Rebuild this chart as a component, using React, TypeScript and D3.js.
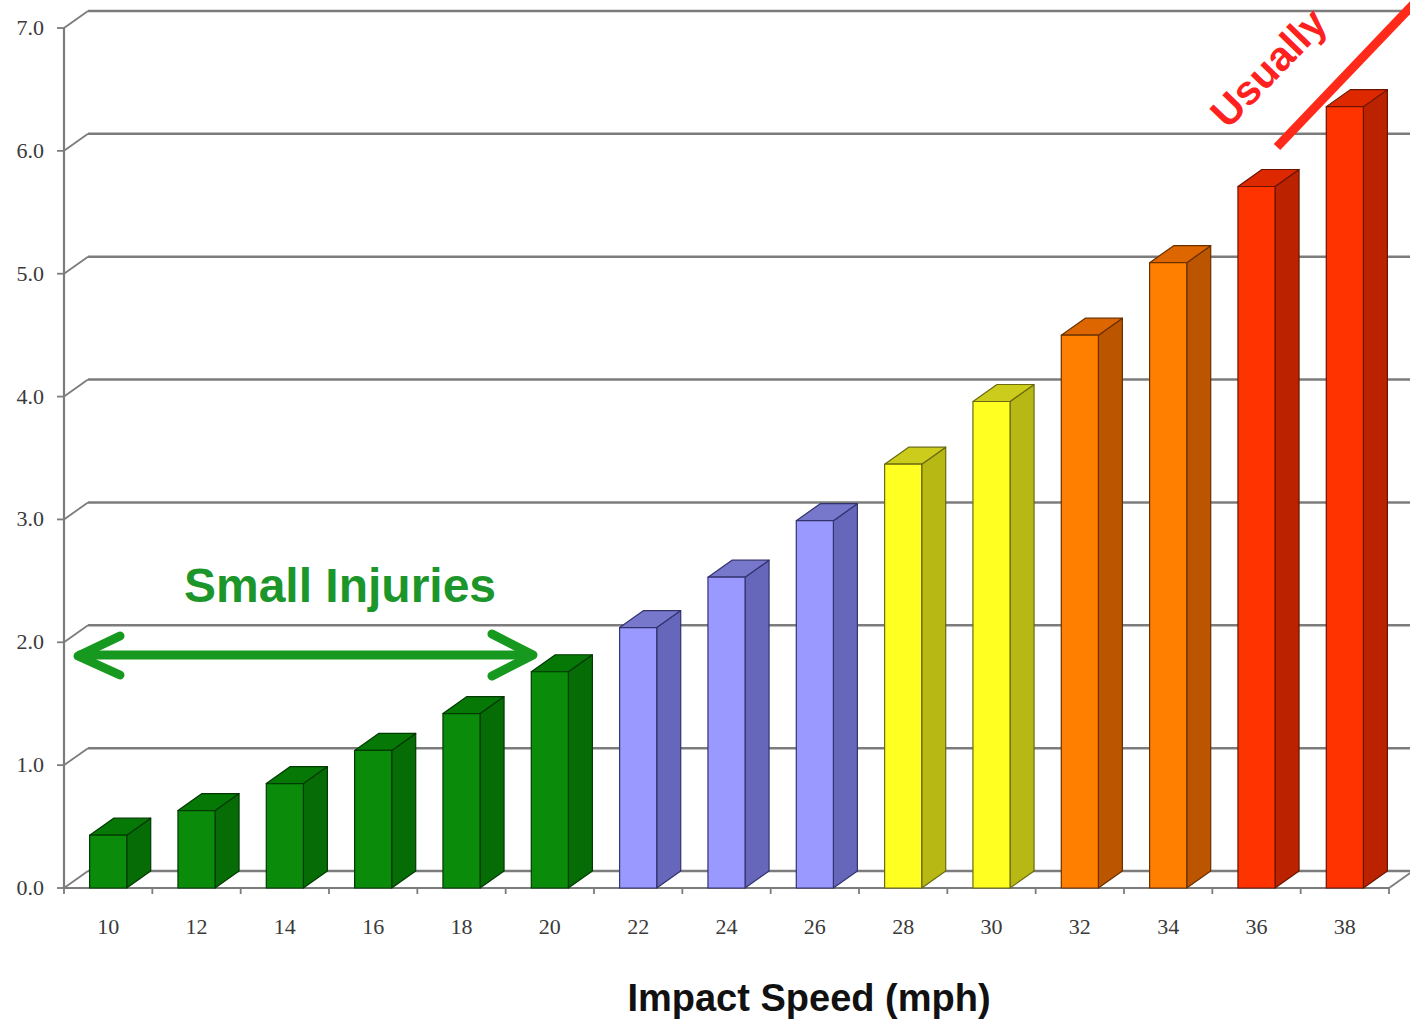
import React from "react";
import * as d3 from "d3";

const speeds = ["10", "12", "14", "16", "18", "20", "22", "24", "26", "28", "30", "32", "34", "36", "38"];
const values = [0.43, 0.63, 0.85, 1.12, 1.42, 1.76, 2.12, 2.53, 2.99, 3.45, 3.96, 4.5, 5.09, 5.71, 6.36];
const groups = ["green", "green", "green", "green", "green", "green", "blue", "blue", "blue", "yellow", "yellow", "orange", "orange", "red", "red"];
const yTicks = [0, 1, 2, 3, 4, 5, 6, 7];

const palette: Record<string, { front: string; side: string; top: string; stroke: string }> = {
  green: { front: "#0a8c0a", side: "#066c06", top: "#067806", stroke: "#023a02" },
  blue: { front: "#9999ff", side: "#6666bb", top: "#7777cc", stroke: "#33336e" },
  yellow: { front: "#ffff22", side: "#b8b814", top: "#cccc1c", stroke: "#6a6a10" },
  orange: { front: "#ff7f00", side: "#bb5500", top: "#dd6600", stroke: "#6a3000" },
  red: { front: "#ff3300", side: "#bb2200", top: "#dd2800", stroke: "#6a1400" },
};

const W = 1410;
const H = 1023;
const DX = 24;
const DY = -17;

export default function App() {
  const x = d3.scaleBand<string>().domain(speeds).range([64, 1389]);
  const y = d3.scaleLinear().domain([0, 7]).range([888, 28]);
  const bw = x.bandwidth() * 0.42;
  const axisColor = "#7c7c7c";
  const serif = "'Liberation Serif', 'DejaVu Serif', serif";
  const sans = "'Liberation Sans', Arial, sans-serif";

  return (
    <div style={{ position: "fixed", left: 0, top: 0 }}>
      <svg width={W} height={H} style={{ display: "block", background: "#fff" }}>
        {/* back wall gridlines */}
        {yTicks.map((t) => (
          <g key={"g" + t}>
            <line x1={64 + DX} x2={W + 10} y1={y(t) + DY} y2={y(t) + DY} stroke={axisColor} strokeWidth={2.5} />
            <line x1={64} x2={64 + DX} y1={y(t)} y2={y(t) + DY} stroke={axisColor} strokeWidth={1.8} />
            <line x1={57} x2={64} y1={y(t)} y2={y(t)} stroke={axisColor} strokeWidth={1.8} />
            <text x={44} y={y(t) + 7} textAnchor="end" fontFamily={serif} fontSize={22} fill="#3a3a3a">
              {t.toFixed(1)}
            </text>
          </g>
        ))}
        {/* y axis */}
        <line x1={64} x2={64} y1={y(7)} y2={y(0) + 1} stroke={axisColor} strokeWidth={2.2} />
        {/* floor front edge */}
        <line x1={64} x2={1389} y1={y(0)} y2={y(0)} stroke={axisColor} strokeWidth={2.2} />
        <line x1={1389} x2={1389 + DX} y1={y(0)} y2={y(0) + DY} stroke={axisColor} strokeWidth={1.8} />
        {speeds.map((s) => (
          <line key={"t" + s} x1={x(s)!} x2={x(s)!} y1={y(0)} y2={y(0) + 6} stroke={axisColor} strokeWidth={1.8} />
        ))}
        <line x1={1389} x2={1389} y1={y(0)} y2={y(0) + 6} stroke={axisColor} strokeWidth={1.8} />
        {/* bars */}
        {speeds.map((s, i) => {
          const c = palette[groups[i]];
          const cx = x(s)! + x.bandwidth() / 2;
          const x0 = cx - bw / 2;
          const x1 = cx + bw / 2;
          const yt = y(values[i]);
          const yb = y(0);
          const topPts = `${x0},${yt} ${x1},${yt} ${x1 + DX},${yt + DY} ${x0 + DX},${yt + DY}`;
          const sidePts = `${x1},${yt} ${x1 + DX},${yt + DY} ${x1 + DX},${yb + DY} ${x1},${yb}`;
          return (
            <g key={"b" + s} strokeWidth={1.2} stroke={c.stroke} strokeLinejoin="round">
              <polygon points={sidePts} fill={c.side} />
              <polygon points={topPts} fill={c.top} />
              <rect x={x0} y={yt} width={bw} height={yb - yt} fill={c.front} />
            </g>
          );
        })}
        {/* x tick labels */}
        {speeds.map((s) => (
          <text key={"l" + s} x={x(s)! + x.bandwidth() / 2} y={934} textAnchor="middle" fontFamily={serif} fontSize={22} fill="#3a3a3a">
            {s}
          </text>
        ))}
        {/* x axis title */}
        <text x={809} y={1011} textAnchor="middle" fontFamily={sans} fontWeight="bold" fontSize={38} fill="#111">
          Impact Speed (mph)
        </text>
        {/* Small injuries annotation */}
        <text x={340} y={602} textAnchor="middle" fontFamily={sans} fontWeight="bold" fontSize={48} fill="#1c962a">
          Small Injuries
        </text>
        <g stroke="#16991e" strokeWidth={9} fill="none" strokeLinecap="round" strokeLinejoin="round">
          <line x1={80} x2={530} y1={655} y2={655} />
          <polyline points="120,636 78,656 120,675" />
          <polyline points="492,634 533,655 492,676" />
        </g>
        {/* Usually annotation */}
        <text
          transform="translate(1228,130) rotate(-46)"
          fontFamily={sans}
          fontWeight="bold"
          fontSize={41}
          fill="#ff2020"
        >
          Usually
        </text>
        <line x1={1277} y1={147} x2={1425} y2={-8} stroke="#ff2a1a" strokeWidth={9} />
      </svg>
    </div>
  );
}
